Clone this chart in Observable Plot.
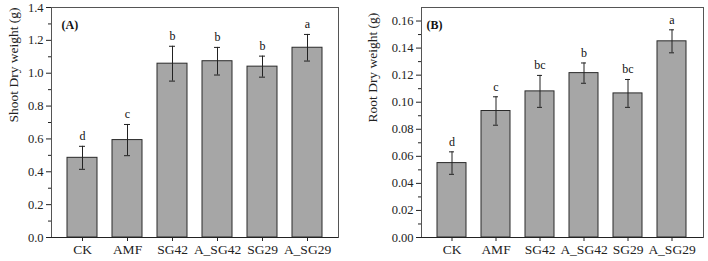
<!DOCTYPE html>
<html><head><meta charset="utf-8">
<script src="https://cdn.jsdelivr.net/npm/d3@7"></script>
<script src="https://cdn.jsdelivr.net/npm/@observablehq/plot@0.6"></script>
<style>
body{margin:0;background:#fff;}
#wrap{display:flex;width:708px;height:261px;}
svg{font-family:"Liberation Serif","Times New Roman",serif;}
</style></head>
<body><div id="wrap"></div>
<script>
const categories = ["CK","AMF","SG42","A_SG42","SG29","A_SG29"];
const shootMean = [0.485,0.593,1.058,1.073,1.040,1.155];
const shootErr  = [0.070,0.095,0.106,0.084,0.064,0.081];
const shootLetters = ["d","c","b","b","b","a"];
const rootMean = [0.055,0.0935,0.108,0.1215,0.1065,0.145];
const rootErr  = [0.0083,0.0105,0.0118,0.0075,0.0103,0.0085];
const rootLetters = ["d","c","bc","b","bc","a"];
const shootTicks = [0,0.2,0.4,0.6,0.8,1.0,1.2,1.4];
const rootTicks = [0,0.02,0.04,0.06,0.08,0.10,0.12,0.14,0.16];

function panel({means, errs, letters, ticks, minor, domain, fmt, label, tag, marginLeft, marginRight, labelDx, tagDx}) {
  const data = categories.map((c,i)=>({c, v:means[i], lo:means[i]-errs[i], hi:means[i]+errs[i], l:letters[i]}));
  return Plot.plot({
    width: 354, height: 261,
    marginLeft, marginRight, marginTop: 7, marginBottom: 24,
    style: {fontFamily: '"Liberation Serif","Times New Roman",serif', fontSize: "12px", color: "#222", background: "#fff"},
    x: {domain: categories, padding: 0.33, align: 0.5, label: null},
    y: {domain, label: null},
    marks: [
      Plot.barY(data, {x:"c", y:"v", fill:"#a6a6a6", stroke:"#2a2a2a", strokeWidth:1}),
      Plot.ruleX(data, {x:"c", y1:"lo", y2:"hi", stroke:"#222", strokeWidth:1}),
      Plot.tickY(data, {x:"c", y:"lo", stroke:"#222", insetLeft:12, insetRight:12}),
      Plot.tickY(data, {x:"c", y:"hi", stroke:"#222", insetLeft:12, insetRight:12}),
      Plot.text(data, {x:"c", y:"hi", text:"l", dy:-10, fontSize:12, fill:"#111"}),
      Plot.axisY({ticks, tickFormat: fmt, tickSize:5, tickPadding:3, fontSize:12.5, label:null, stroke:"#222", fill:"#222"}),
      Plot.axisY({ticks: minor, text: null, tickSize:3, label:null, stroke:"#222"}),
      Plot.axisX({tickSize:4, fontSize:13.5, tickPadding:3, label:null, stroke:"#222", fill:"#222"}),
      Plot.frame({stroke:"#555", strokeWidth:1}),
      Plot.ruleY([0], {stroke:"#222", strokeWidth:1}),
      Plot.text([label], {frameAnchor:"left", dx:labelDx, rotate:-90, fontSize:13.5, fill:"#222"}),
      Plot.text([tag], {frameAnchor:"top-left", dx:tagDx, dy:13, fontWeight:"bold", fontSize:12, fill:"#111"})
    ]
  });
}

const wrap = document.getElementById("wrap");
const shootMinor = d3.range(0.1, 1.4, 0.2);
const rootMinor = d3.range(0.01, 0.17, 0.02);
const left = panel({means: shootMean, errs: shootErr, letters: shootLetters, ticks: shootTicks, minor: shootMinor,
  domain:[0,1.4], fmt: d3.format(".1f"), label:"Shoot Dry weight (g)", tag:"(A)", marginLeft:51, marginRight:16, labelDx:-38, tagDx:10});
const right = panel({means: rootMean, errs: rootErr, letters: rootLetters, ticks: rootTicks, minor: rootMinor,
  domain:[0,0.17], fmt: d3.format(".2f"), label:"Root Dry weight (g)", tag:"(B)", marginLeft:67, marginRight:5, labelDx:-49, tagDx:5});
wrap.append(left, right);
</script></body></html>
